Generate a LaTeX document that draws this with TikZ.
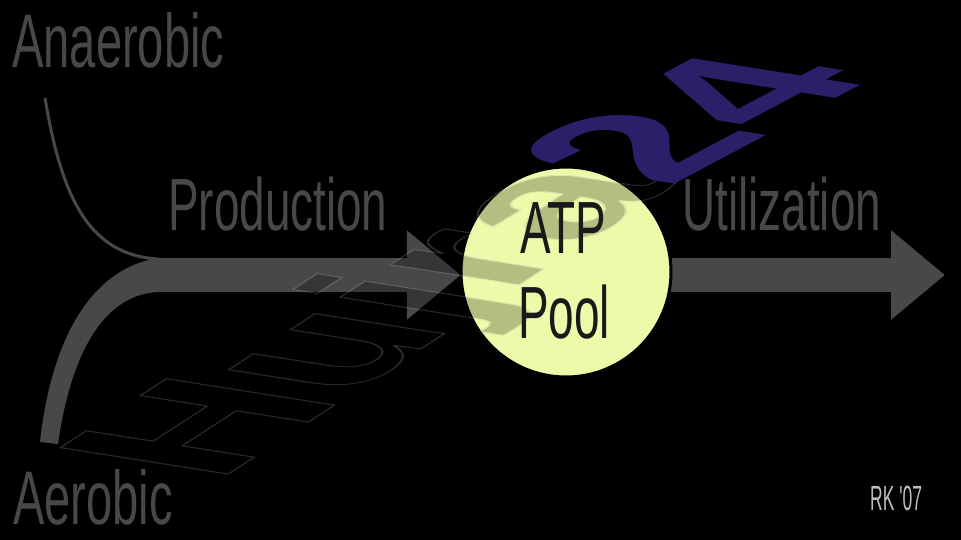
\documentclass[tikz,border=0pt]{standalone}
\usepackage{fontspec}
\setmainfont{Liberation Sans}
\newfontfamily\condfont[FakeStretch=0.62]{Liberation Sans}
\newfontfamily\rkfont[FakeStretch=0.5]{Liberation Sans}
\newfontfamily\wmfont{Liberation Sans}
\usetikzlibrary{arrows.meta}
\definecolor{lblgray}{RGB}{72,72,72}
\definecolor{arrgray}{RGB}{72,72,72}
\definecolor{poolfill}{RGB}{236,250,170}
\definecolor{wmnavy}{RGB}{42,32,105}
\definecolor{rkgray}{RGB}{190,190,190}
\newcommand{\wmoutline}[1]{\special{pdf:code q 2 Tr 1.6 w 0.68 0.68 0.68 RG}#1\special{pdf:code Q}}
\tikzset{
  lbltxt/.style={anchor=base west, inner sep=0pt, text=lblgray, font=\condfont\fontsize{74}{74}\selectfont},
  pooltxt/.style={anchor=base west, inner sep=0pt, text={rgb,255:red,25;green,25;blue,25}, font=\condfont\fontsize{74}{74}\selectfont},
  flow/.style={draw=arrgray, line width=34pt, -{Triangle[length=54pt, width=86pt]}},
  wmtxt/.style={transform shape, anchor=base west, inner sep=0pt, font=\wmfont\bfseries\fontsize{215}{215}\selectfont}
}
\begin{document}
\begin{tikzpicture}[x=1pt,y=-1pt]
\fill[black] (0,0) rectangle (961,540);
\useasboundingbox (0,0) rectangle (961,540);

% coordinates
\coordinate (junc) at (150,275);
\coordinate (anaerstart) at (45,98);
\coordinate (anaerend) at (158,259);
\coordinate (outend) at (945,275);

% pool position
\path (566,272) node[circle, minimum size=210pt, inner sep=0pt] (poolpos) {};

% arrows
\draw[flow] (junc) -- (junc -| poolpos.west);
\draw[flow] (poolpos.center |- junc) -- (outend);

% anaerobic thin curve
\draw[arrgray, line width=3pt] (anaerstart) .. controls (62,200) and (90,255) .. (anaerend);
% aerobic thick band
\fill[arrgray] (40,442) .. controls (50,350) and (85,270) .. (158,258) -- (158,292)
   .. controls (100,295) and (70,360) .. (58,444) -- cycle;

% ATP pool circle
\node[circle, minimum size=210pt, inner sep=0pt, fill=poolfill, draw=black, line width=3pt] (pool) at (566,272) {};

% watermark
\begin{scope}[shift={(216,482)}, cm={0.839,0.545,-1.135,0.179,(0,0)}]
  \begin{scope}[transparency group, opacity=0.24]
    \node[wmtxt, text=black] (wmhujra) at (0,0) {\wmoutline{Hujra}};
  \end{scope}
\end{scope}
\begin{scope}[shift={(668,188)}, cm={0.883,0.469,-1.135,0.179,(0,0)}]
  \node[wmtxt, text=wmnavy] (wmnum) at (0,0) {24};
\end{scope}

% labels
\node[lbltxt, font=\condfont\fontsize{76}{76}\selectfont] (anaerobic) at (12,68) {Anaerobic};
\node[lbltxt] (production) at (168,230) {Production};
\node[lbltxt] (utilization) at (682,230) {Utilization};
\node[lbltxt, font=\condfont\fontsize{76}{76}\selectfont] (aerobic) at (13,524) {Aerobic};
\node[anchor=base west, inner sep=0pt, text=rkgray, font=\rkfont\fontsize{35}{35}\selectfont] (rk) at (870,510) {RK '07};
\node[pooltxt] (atp) at (520,253) {ATP};
\node[pooltxt] (pooltext) at (518,338) {Pool};
\end{tikzpicture}
\end{document}
